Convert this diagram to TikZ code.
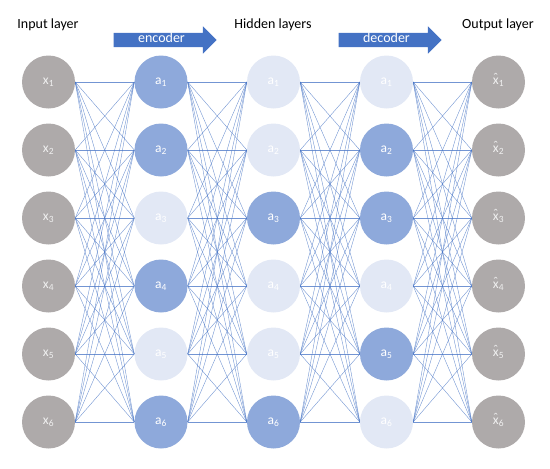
\documentclass[tikz,border=0pt]{standalone}
\usepackage{fontspec}
\setmainfont{Carlito}
\usetikzlibrary{shapes.arrows}
\definecolor{netgray}{HTML}{AEAAAA}
\definecolor{netdark}{HTML}{8EA9DB}
\definecolor{netlight}{HTML}{E2E8F5}
\definecolor{netblue}{HTML}{4472C4}
\newcommand{\xhat}{\ooalign{x\cr\hidewidth\raisebox{1.5pt}{\char"02C6}\hidewidth\cr}}

\begin{document}
\begin{tikzpicture}[x=1pt, y=-1pt,
    unit/.style={circle, minimum size=53pt, inner sep=0pt, text=white, font=\fontsize{13.5}{15}\selectfont},
    iounit/.style={unit, fill=netgray, text=white!94!black},
    actunit/.style={unit, fill=netdark},
    dimunit/.style={unit, fill=netlight},
    wire/.style={netblue, line width=0.4pt, opacity=0.75},
    title/.style={font=\fontsize{14}{16}\selectfont},
    coder/.style={single arrow, fill=netblue, text=white, font=\fontsize{14}{16}\selectfont,
        minimum height=103pt, minimum width=27pt, single arrow head extend=6.5pt,
        inner ysep=0pt, inner xsep=0pt, text height=9.5pt, text depth=4.5pt}]
    \useasboundingbox (0,0) rectangle (550,469);

    % titles and arrows
    \node [title] (tin) at (48,25) {Input layer};
    \node [title] (thid) at (273,25) {Hidden layers};
    \node [title] (tout) at (498,25) {Output layer};
    \node [coder] (enc) at (161.5,40) {encoder};
    \node [coder] (dec) at (386.5,40) {decoder};

    % input and output units
    \foreach \i in {1,...,6} {
        \pgfmathsetmacro{\yy}{82+68*(\i-1)}
        \node [iounit] (x\i) at (48.5,\yy) {x\textsubscript{\i}};
        \node [iounit] (y\i) at (498.5,\yy) {\xhat\textsubscript{\i}};
    }

    % hidden units
    \foreach \i/\s in {1/actunit,2/actunit,3/dimunit,4/actunit,5/dimunit,6/actunit} {
        \pgfmathsetmacro{\yy}{82+68*(\i-1)}
        \node [\s] (e\i) at (161,\yy) {a\textsubscript{\i}};
    }
    \foreach \i/\s in {1/dimunit,2/dimunit,3/actunit,4/dimunit,5/dimunit,6/actunit} {
        \pgfmathsetmacro{\yy}{82+68*(\i-1)}
        \node [\s] (h\i) at (273.5,\yy) {a\textsubscript{\i}};
    }
    \foreach \i/\s in {1/dimunit,2/actunit,3/actunit,4/dimunit,5/actunit,6/dimunit} {
        \pgfmathsetmacro{\yy}{82+68*(\i-1)}
        \node [\s] (d\i) at (386.5,\yy) {a\textsubscript{\i}};
    }

    % connections
    \foreach \a/\b in {x/e,e/h,h/d,d/y}
        \foreach \i in {1,...,6}
            \foreach \j in {1,...,6}
                \draw [wire] (\a\i.east) -- (\b\j.west);
\end{tikzpicture}
\end{document}
